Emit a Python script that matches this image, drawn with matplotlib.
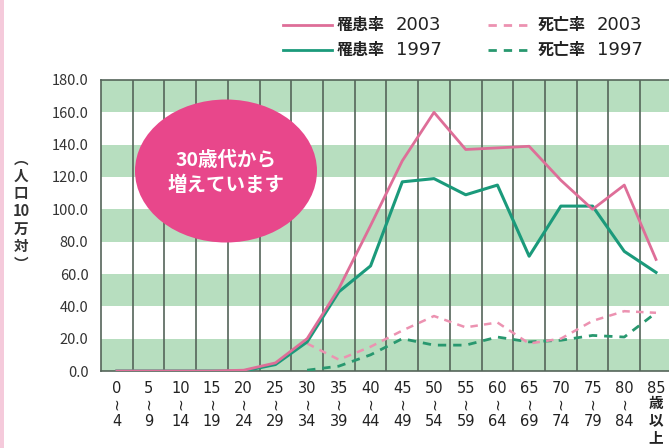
import matplotlib
matplotlib.use('Agg')
import matplotlib.pyplot as plt
import matplotlib.transforms as mtrans
from matplotlib.patches import Ellipse, Rectangle
from matplotlib.lines import Line2D

plt.rcParams['font.family'] = ['Noto Sans CJK JP', 'DejaVu Sans']

# data
ages_from = ['0', '5', '10', '15', '20', '25', '30', '35', '40', '45',
             '50', '55', '60', '65', '70', '75', '80', '85']
ages_to = ['4', '9', '14', '19', '24', '29', '34', '39', '44', '49',
           '54', '59', '64', '69', '74', '79', '84', None]
last_suffix = '歳\n以\n上'
morb_2003 = [0, 0, 0, 0, 0.5, 5, 20, 51, 90, 130, 160, 137, 138, 139, 118, 100, 115, 69]
morb_1997 = [0, 0, 0, 0, 0, 4, 18, 49, 65, 117, 119, 109, 115, 71, 102, 102, 74, 61]
mort_2003 = [17, 7, 15, 25, 34, 27, 30, 17, 20, 31, 37, 36]
mort_1997 = [0.5, 3, 10, 20, 16, 16, 21, 18, 19, 22, 21, 36]
mort_start = 6  # 30-34

pink = '#de6e98'
pink_light = '#ec92b1'
green = '#1b9a7b'
green_dash = '#28986f'
band = '#b7debf'
vline = '#55655a'
dash = (0, (3, 2.5))

fig = plt.figure(figsize=[6.69, 4.48], dpi=100)
ax = fig.add_axes([101 / 669, 77 / 448, 568 / 669, 291 / 448])

x = list(range(len(ages_from)))
x_mort = x[mort_start:]

# background bands
for y0 in range(0, 180, 40):
    ax.axhspan(y0, y0 + 20, color=band, lw=0, zorder=0)
for i in range(len(x) - 1):
    ax.axvline(i + 0.5, color=vline, lw=1.2, zorder=1)

ax.plot(x_mort, mort_1997, color=green_dash, lw=2.0, ls=dash, zorder=3)
ax.plot(x_mort, mort_2003, color=pink_light, lw=1.8, ls=dash, zorder=3)
ax.plot(x, morb_1997, color=green, lw=2.2, zorder=4)
ax.plot(x, morb_2003, color=pink, lw=2.0, zorder=5)

ax.set_xlim(-0.5, 17.41)
ax.set_ylim(0, 180)

ax.set_yticks(range(0, 181, 20))
ax.set_yticklabels(['%.1f' % v for v in range(0, 181, 20)], fontsize=10.5,
                   color='#333333')
ax.set_xticks(x)
ax.set_xticklabels(ages_from, fontsize=10.5, color='#222222',
                   family='DejaVu Sans')
ax.tick_params(axis='both', length=0)
ax.tick_params(axis='y', pad=9)
ax.tick_params(axis='x', pad=7)

# wave dash and upper bound under each age tick
trans = mtrans.blended_transform_factory(ax.transData, fig.transFigure)
for xi, b in zip(x, ages_to):
    if b is not None:
        ax.text(xi, 1 - 404 / 448, '~', transform=trans, rotation=90,
                ha='center', va='center', fontsize=11, color='#222222',
                family='DejaVu Sans', clip_on=False)
        ax.text(xi, 1 - 421 / 448, b, transform=trans, ha='center',
                va='center', fontsize=10.5, color='#222222',
                family='DejaVu Sans', clip_on=False)
    else:
        ax.text(xi, 1 - 395 / 448, last_suffix, transform=trans, ha='center',
                va='top', fontsize=10.5, color='#222222', linespacing=1.1,
                fontweight='bold', clip_on=False)

for s in ['left', 'bottom', 'top']:
    ax.spines[s].set_color('#55655a')
    ax.spines[s].set_linewidth(1.2)
ax.spines['right'].set_visible(False)

# vertical y label
fig.text(21 / 669, 1 - 211 / 448, '︵\n人\n口\n10\n万\n対\n︶', fontsize=10.5,
         fontweight='bold', ha='center', va='center', linespacing=1.12,
         color='#333333')

# callout ellipse
fig.patches.append(Ellipse((226 / 669, 1 - 171 / 448), 182 / 669, 143 / 448,
                           transform=fig.transFigure, facecolor='#e8478b',
                           edgecolor='none', zorder=10))
fig.text(226 / 669, 1 - 173 / 448, '30歳代から\n増えています', color='white',
         fontsize=14, fontweight='bold', ha='center', va='center',
         linespacing=1.35, zorder=11)

# left pink strip
fig.patches.append(Rectangle((0, 0), 4 / 669, 1, transform=fig.transFigure,
                             facecolor='#f5cadb', edgecolor='none'))

# legend (manual)
entries = [(283, 332, 25, pink, '-', '罹患率', '2003'),
           (283, 332, 50, green, '-', '罹患率', '1997'),
           (488, 533, 25, pink_light, dash, '死亡率', '2003'),
           (488, 533, 50, green_dash, dash, '死亡率', '1997')]
for x0, x1, yy, c, style, name, year in entries:
    fig.add_artist(Line2D([x0 / 669, x1 / 669], [1 - yy / 448, 1 - yy / 448],
                          color=c, lw=2.0, ls=style, transform=fig.transFigure))
    fig.text((x1 + 5) / 669, 1 - yy / 448, name, fontsize=11.5, ha='left',
             va='center', color='#222222', fontweight='bold')
    fig.text((x1 + 64) / 669, 1 - yy / 448, year, fontsize=13, ha='left',
             va='center', color='#222222', family='DejaVu Sans')

fig.savefig('out.png', dpi=100)
